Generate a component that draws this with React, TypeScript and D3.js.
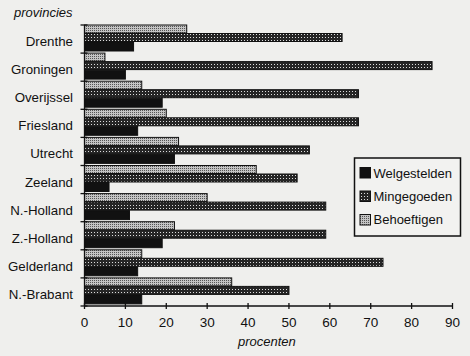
import React from "react";
import * as d3 from "d3";

const categories = ["Drenthe", "Groningen", "Overijssel", "Friesland", "Utrecht", "Zeeland", "N.-Holland", "Z.-Holland", "Gelderland", "N.-Brabant"];
const welgestelden = [12, 10, 19, 13, 22, 6, 11, 19, 13, 14];
const mingegoeden = [63, 85, 67, 67, 55, 52, 59, 59, 73, 50];
const behoeftigen = [25, 5, 14, 20, 23, 42, 30, 22, 14, 36];
const seriesNames = ["Welgestelden", "Mingegoeden", "Behoeftigen"];
const xTicks = [0, 10, 20, 30, 40, 50, 60, 70, 80, 90];

const W = 470, H = 356;
const FONT = "'Liberation Sans', Arial, Helvetica, sans-serif";
const fills = ["#111111", "url(#pMid)", "url(#pLight)"];

export default function App() {
  const x = d3.scaleLinear().domain([0, 90]).range([84.5, 452.5]);
  const y = d3.scaleBand<string>().domain(categories).range([25, 306]);
  const bw = y.bandwidth();
  const layout = [
    { data: behoeftigen, fill: fills[2], off: 0, h: 8 },
    { data: mingegoeden, fill: fills[1], off: 8.5, h: 8 },
    { data: welgestelden, fill: fills[0], off: 17, h: 9 },
  ];
  const boundaries = d3.range(categories.length + 1).map((i) => 25 + i * bw);

  return (
    <svg width={W} height={H} style={{ position: "absolute", left: 0, top: 0 }} fontFamily={FONT}>
      <defs>
        <pattern id="pMid" width="3" height="3" patternUnits="userSpaceOnUse">
          <rect width="3" height="3" fill="#262626" />
          <rect x="1" y="1" width="1" height="1" fill="#dedede" />
        </pattern>
        <pattern id="pLight" width="2" height="2" patternUnits="userSpaceOnUse">
          <rect width="2" height="2" fill="#c4c4c4" />
          <rect x="0" y="0" width="1" height="1" fill="#555555" />
        </pattern>
      </defs>
      <rect width={W} height={H} fill="#efefed" />

      <text x={14} y={17} fontSize={13} fontStyle="italic" fill="#111">provincies</text>

      {layout.map((s, si) =>
        categories.map((c, i) => (
          <rect key={si + "-" + c} x={x(0)} y={(y(c) as number) + s.off} width={x(s.data[i]) - x(0)} height={s.h}
            fill={s.fill} stroke="#111" strokeWidth={1} />
        ))
      )}

      <line x1={x(0)} x2={x(0)} y1={25} y2={306} stroke="#111" strokeWidth={1.3} />
      {boundaries.map((b, i) => (
        <line key={"yt" + i} x1={x(0) - 4} x2={x(0) + 3} y1={b} y2={b} stroke="#111" strokeWidth={1.3} />
      ))}
      {categories.map((c) => (
        <text key={"yl" + c} x={73} y={(y(c) as number) + bw / 2 + 7} textAnchor="end" fontSize={13.3} fill="#111">{c}</text>
      ))}

      <line x1={x(0)} x2={x(90)} y1={306} y2={306} stroke="#111" strokeWidth={1.3} />
      {xTicks.map((t) => (
        <g key={"xt" + t}>
          <line x1={x(t)} x2={x(t)} y1={303} y2={309} stroke="#111" strokeWidth={1.3} />
          <text x={x(t)} y={327} textAnchor="middle" fontSize={13.5} fill="#111">{t}</text>
        </g>
      ))}
      <text x={238} y={346} fontSize={13} fontStyle="italic" fill="#111">procenten</text>

      <rect x={354.5} y={158} width={106} height={78} fill="#f2f2f0" stroke="#111" strokeWidth={1.5} />
      {seriesNames.map((n, i) => (
        <g key={"lg" + n}>
          <rect x={360} y={167.5 + i * 23.5} width={10.5} height={10.5} fill={fills[i]} stroke="#111" strokeWidth={1} />
          <text x={373.5} y={178.3 + i * 23} fontSize={13} fill="#111">{n}</text>
        </g>
      ))}
    </svg>
  );
}
